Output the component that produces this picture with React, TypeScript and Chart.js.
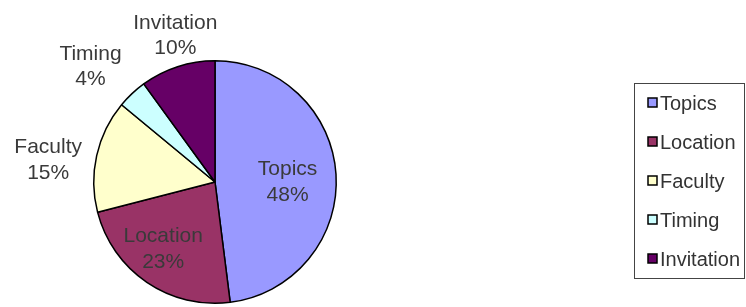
import React, { useEffect, useRef } from "react";
import { Chart, registerables } from "chart.js";

Chart.register(...registerables);

const categories = ["Topics", "Location", "Faculty", "Timing", "Invitation"];
const values = [48, 23, 15, 4, 10];
const colors = ["#9999FF", "#993366", "#FFFFCC", "#CCFFFF", "#660066"];

const FONT = "'Liberation Sans', Arial, sans-serif";
// label placement factors along each slice's mid-angle (x and y separately)
const labelKx = [0.6, 0.76, 1.41, 1.5, 1.06];
const labelKy = [0, 0.67, 0.83, 1.31, 1.27];

const labelPlugin = {
  id: "sliceLabels",
  afterDatasetsDraw(chart: any) {
    const ctx = chart.ctx;
    const meta = chart.getDatasetMeta(0);
    const total = values.reduce((a, b) => a + b, 0);
    ctx.save();
    ctx.font = `21px ${FONT}`;
    ctx.fillStyle = "#3a3a3a";
    ctx.textAlign = "center";
    ctx.textBaseline = "middle";
    meta.data.forEach((arc: any, i: number) => {
      const { x, y, startAngle, endAngle, outerRadius } = arc.getProps(
        ["x", "y", "startAngle", "endAngle", "outerRadius"],
        true
      );
      const mid = (startAngle + endAngle) / 2;
      const lx = x + Math.cos(mid) * outerRadius * labelKx[i];
      const ly = y + Math.sin(mid) * outerRadius * labelKy[i];
      const pct = Math.round((values[i] / total) * 100) + "%";
      ctx.fillText(categories[i], lx, ly - 12.5);
      ctx.fillText(pct, lx, ly + 13);
    });
    ctx.restore();
  },
};

const legendPlugin = {
  id: "boxLegend",
  afterDraw(chart: any) {
    const ctx = chart.ctx;
    ctx.save();
    ctx.strokeStyle = "#444";
    ctx.lineWidth = 1;
    ctx.strokeRect(634.5, 83.5, 110, 195);
    ctx.font = `20px ${FONT}`;
    ctx.textAlign = "left";
    ctx.textBaseline = "middle";
    categories.forEach((c, i) => {
      const cy = 103 + i * 39;
      ctx.fillStyle = colors[i];
      ctx.fillRect(648, cy - 5, 9, 9);
      ctx.strokeStyle = "#000";
      ctx.lineWidth = 1.5;
      ctx.strokeRect(648, cy - 5, 9, 9);
      ctx.fillStyle = "#333";
      ctx.fillText(c, 660, cy + 1);
    });
    ctx.restore();
  },
};

export default function App() {
  const ref = useRef<HTMLCanvasElement>(null);
  useEffect(() => {
    document.body.style.margin = "0";
    const chart = new Chart(ref.current!, {
      type: "pie",
      data: {
        labels: categories,
        datasets: [
          {
            data: values,
            backgroundColor: colors,
            borderColor: "#000",
            borderWidth: 1.5,
          },
        ],
      },
      options: {
        animation: false,
        responsive: false,
        layout: { padding: { left: 93, right: 409, top: 59, bottom: 2 } },
        plugins: { legend: { display: false }, tooltip: { enabled: false } },
      },
      plugins: [labelPlugin, legendPlugin],
    });
    return () => chart.destroy();
  }, []);
  return (
    <div style={{ width: 746, height: 307, background: "#fff" }}>
      <canvas ref={ref} width={746} height={307} />
    </div>
  );
}
